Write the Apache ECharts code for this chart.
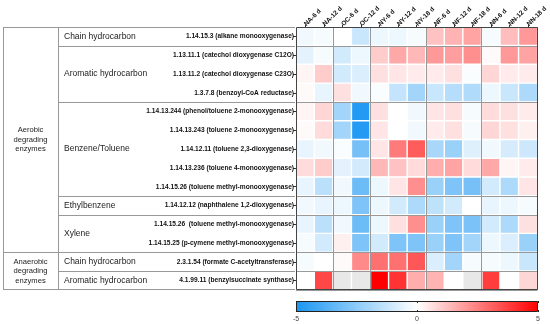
<!DOCTYPE html>
<html><head><meta charset="utf-8">
<script src="https://cdn.jsdelivr.net/npm/echarts@6/dist/echarts.min.js"></script>
<style>html,body{margin:0;padding:0;background:#fff}#c{width:550px;height:324px}</style>
</head><body><div id="c"></div><script>
// ---------- data ----------
const samples = ['NA-6 d','NA-12 d','OC-6 d','OC-12 d','NY-6 d','NY-12 d','NY-18 d','NF-6 d','NF-12 d','NF-18 d','NN-6 d','NN-12 d','NN-18 d'];
const sampleGroupSizes = [2, 2, 3, 3, 3];
const enzymes = [
  '1.14.15.3 (alkane monooxygenase)',
  '1.13.11.1 (catechol dioxygenase C12O)',
  '1.13.11.2 (catechol dioxygenase C23O)',
  '1.3.7.8 (benzoyl-CoA reductase)',
  '1.14.13.244 (phenol/toluene 2-monooxygenase)',
  '1.14.13.243 (toluene 2-monooxygenase)',
  '1.14.12.11 (toluene 2,3-dioxygenase)',
  '1.14.13.236 (toluene 4-monooxygenase)',
  '1.14.15.26 (toluene methyl-monooxygenase)',
  '1.14.12.12 (naphthalene 1,2-dioxygenase)',
  '1.14.15.26  (toluene methyl-monooxygenase)',
  '1.14.15.25 (p-cymene methyl-monooxygenase)',
  '2.3.1.54 (formate C-acetyltransferase)',
  '4.1.99.11 (benzylsuccinate synthase)'
];
const substrateTypes = ['Chain hydrocarbon','Aromatic hydrocarbon','Benzene/Toluene','Ethylbenzene','Xylene','Chain hydrocarbon','Aromatic hydrocarbon'];
const substrateRowCounts = [1, 3, 5, 1, 2, 1, 1];
const pathways = ['Aerobic\ndegrading\nenzymes','Anaerobic\ndegrading\nenzymes'];
const pathwayRowCounts = [12, 2];

const r01 = [-0.3,-0.2, 0.0,-1.2,-0.4,-0.4,-0.2, 1.2, 1.5, 1.8,-0.2, 1.3, 2.0];
const r02 = [-0.6,-0.2,-1.0,-0.4, 1.0, 1.7, 1.4, 2.0, 1.9, 2.2, 0.1, 2.0, 1.8];
const r03 = [ 0.2, 1.0,-1.0,-0.8, 0.6, 0.5, 0.4, 0.4, 0.6,-0.1, 0.8, 0.4, 0.4];
const r04 = [ 0.1,-0.5, 0.6,-0.3,-0.1,-1.3,-2.0,-1.2,-1.6,-1.7,-0.4,-1.2,-1.8];
const r05 = [ 0.2, 0.8,-2.0,-4.8, 0.6, 0.0,-0.3, 0.5, 0.6,-0.2, 0.7, 0.6, 0.4];
const r06 = [ 0.1, 0.7,-2.0,-4.8, 0.5, 0.0,-0.3, 0.4, 0.6,-0.2, 0.8, 0.6, 0.3];
const r07 = [-0.5,-0.3,-0.1,-3.0, 0.5, 2.6, 3.2,-1.9,-2.2,-0.7,-0.3,-0.9,-1.1];
const r08 = [ 0.7, 1.0,-0.6,-1.0, 1.4, 1.2, 0.7, 1.6, 1.8, 0.7, 1.7, 0.2, 0.4];
const r09 = [-0.5,-1.5,-0.3,-3.2,-0.4, 0.5, 2.2,-2.2,-2.8,-3.0,-1.0,-1.8, 0.5];
const r10 = [-0.3,-0.5,-0.4,-2.8,-0.4,-1.0,-1.8,-1.4,-1.0, 0.0,-0.5,-0.4,-0.2];
const r11 = [-0.5,-1.5,-0.3,-3.2,-0.4, 0.6, 2.2,-2.2,-2.8,-2.9,-1.0,-1.8, 0.6];
const r12 = [-0.2,-1.0, 0.3,-2.8,-1.0,-2.8,-2.8,-2.2,-2.8,-2.0,-0.4,-0.8,-2.2];
const r13 = [-0.2, 0.0, 0.1, 2.3, 2.8, 2.8, 3.3,-0.8,-2.0,-0.2,-0.2,-0.4,-1.2];
const r14 = [ 0.0, 3.6, null, null, 5.0, 4.0, 1.6, 1.5, 0.0, null, 3.8, 0.0, 0.8];
const rows = [r01,r02,r03,r04,r05,r06,r07,r08,r09,r10,r11,r12,r13,r14];

const colorbarTicks = [-5, 0, 5];

// ---------- layout ----------
const GL = 296, GT = 27, GW = 242, GH = 263;
const TL = 3, TC = 58;
const FONT = 'Liberation Sans, Arial, sans-serif';

const heat = [], missing = [];
rows.forEach((r, yi) => r.forEach((v, xi) => {
  if (v === null) missing.push([xi, yi, 0]); else heat.push([xi, yi, v]);
}));

const colBreaks = new Set(); { let s = 0; sampleGroupSizes.slice(0, -1).forEach(n => { s += n; colBreaks.add(s); }); }
const rowBreaks = new Set(); { let s = 0; substrateRowCounts.slice(0, -1).forEach(n => { s += n; rowBreaks.add(s); }); }

const rh = GH / enzymes.length;
const graphics = [];
const gline = (x1, y1, x2, y2, color) => graphics.push({type:'line', shape:{x1,y1,x2,y2}, style:{stroke:color, lineWidth:1}, z:1});
gline(TL, GT + 0.5, GL, GT + 0.5, '#999');
gline(TL, GT + GH - 0.5, GL, GT + GH - 0.5, '#999');
gline(TL + 0.5, GT, TL + 0.5, GT + GH, '#999');
gline(TC + 0.5, GT, TC + 0.5, GT + GH, '#999');
{ let s = 0; substrateRowCounts.forEach((n, i) => {
    const y = GT + (s + n / 2) * rh;
    graphics.push({type:'text', x: TC + 6, y, style:{text: substrateTypes[i], font: '8.5px ' + FONT, fill:'#222', textVerticalAlign:'middle'}});
    s += n;
    if (i < substrateRowCounts.length - 1) gline(TC, Math.round(GT + s * rh) + 0.5, GL, Math.round(GT + s * rh) + 0.5, '#999');
}); }
{ let s = 0; pathwayRowCounts.forEach((n, i) => {
    const y = GT + (s + n / 2) * rh;
    graphics.push({type:'text', x: (TL + TC) / 2, y, style:{text: pathways[i], font: '7.6px ' + FONT, fill:'#222', textAlign:'center', textVerticalAlign:'middle', lineHeight: 9.5}});
    s += n;
    if (i < pathwayRowCounts.length - 1) gline(TL, Math.round(GT + s * rh) + 0.5, TC, Math.round(GT + s * rh) + 0.5, '#999');
}); }
graphics.push({type:'rect', shape:{x: GL + 0.5, y: GT + 0.5, width: GW - 1, height: GH - 1}, style:{fill:null, stroke:'#444', lineWidth:1}, z:10});
graphics.push({type:'rect', shape:{x: GL + 0.5, y: 301.5, width: GW - 1, height: 10}, style:{fill:null, stroke:'#222', lineWidth:1}, z:10});

const chart = echarts.init(document.getElementById('c'), null, {renderer:'canvas'});
chart.setOption({
  animation: false,
  backgroundColor: '#fff',
  textStyle: {fontFamily: FONT},
  grid: [
    {left: GL, top: GT, width: GW, height: GH, containLabel: false},
    {left: GL, top: 301, width: GW, height: 11, containLabel: false}
  ],
  xAxis: [
    {type:'category', data: samples, position:'top', gridIndex:0, z:5,
     axisLine:{show:false},
     axisTick:{show:true, alignWithLabel:true, length:2, lineStyle:{color:'#333'}},
     axisLabel:{rotate:-45, fontSize:6.5, fontWeight:'bold', color:'#111', margin:2, interval:0},
     splitLine:{show:true, interval:(i) => colBreaks.has(i), lineStyle:{color:'#999', width:1}}},
    {type:'value', gridIndex:1, min: colorbarTicks[0], max: colorbarTicks[colorbarTicks.length-1], interval: colorbarTicks[1]-colorbarTicks[0], position:'bottom', z:12,
     axisLine:{show:false}, splitLine:{show:false},
     axisTick:{show:true, inside:true, length:2, lineStyle:{color:'#222'}},
     axisLabel:{fontSize:7, color:'#444', margin:4}},
    {type:'value', gridIndex:1, min: colorbarTicks[0], max: colorbarTicks[colorbarTicks.length-1], interval: colorbarTicks[1]-colorbarTicks[0], position:'top', z:12,
     axisLine:{show:false}, splitLine:{show:false}, axisLabel:{show:false},
     axisTick:{show:true, inside:true, length:2, lineStyle:{color:'#222'}}}
  ],
  yAxis: [
    {type:'category', data: enzymes, inverse:true, gridIndex:0, z:5,
     axisLine:{show:false},
     axisTick:{show:true, alignWithLabel:true, length:3, lineStyle:{color:'#333'}},
     axisLabel:{fontSize:6.6, fontWeight:'bold', color:'#111', margin:2, interval:0},
     splitLine:{show:true, interval:(i) => rowBreaks.has(i), lineStyle:{color:'#999', width:1}}},
    {type:'value', gridIndex:1, min:0, max:1, show:false}
  ],
  visualMap: {
    type:'continuous', min: colorbarTicks[0], max: colorbarTicks[colorbarTicks.length-1], seriesIndex: 0,
    orient:'horizontal', left: GL, top: 301, itemWidth: 11, itemHeight: GW,
    calculable:false, hoverLink:false, padding:0, text:null, showLabel:false,
    inRange:{color:['#1a96f2','#ffffff','#ff0000']}
  },
  series: [
    {type:'heatmap', xAxisIndex:0, yAxisIndex:0, data: heat,
     itemStyle:{borderColor:'#fff', borderWidth:1.4}, emphasis:{disabled:true}},
    {type:'heatmap', xAxisIndex:0, yAxisIndex:0, data: missing,
     itemStyle:{color:'#e8e8e8', borderColor:'#fff', borderWidth:1.4}, emphasis:{disabled:true}},
    {type:'line', xAxisIndex:1, yAxisIndex:1, data:[], silent:true}
  ],
  graphic: graphics
});
</script></body></html>
